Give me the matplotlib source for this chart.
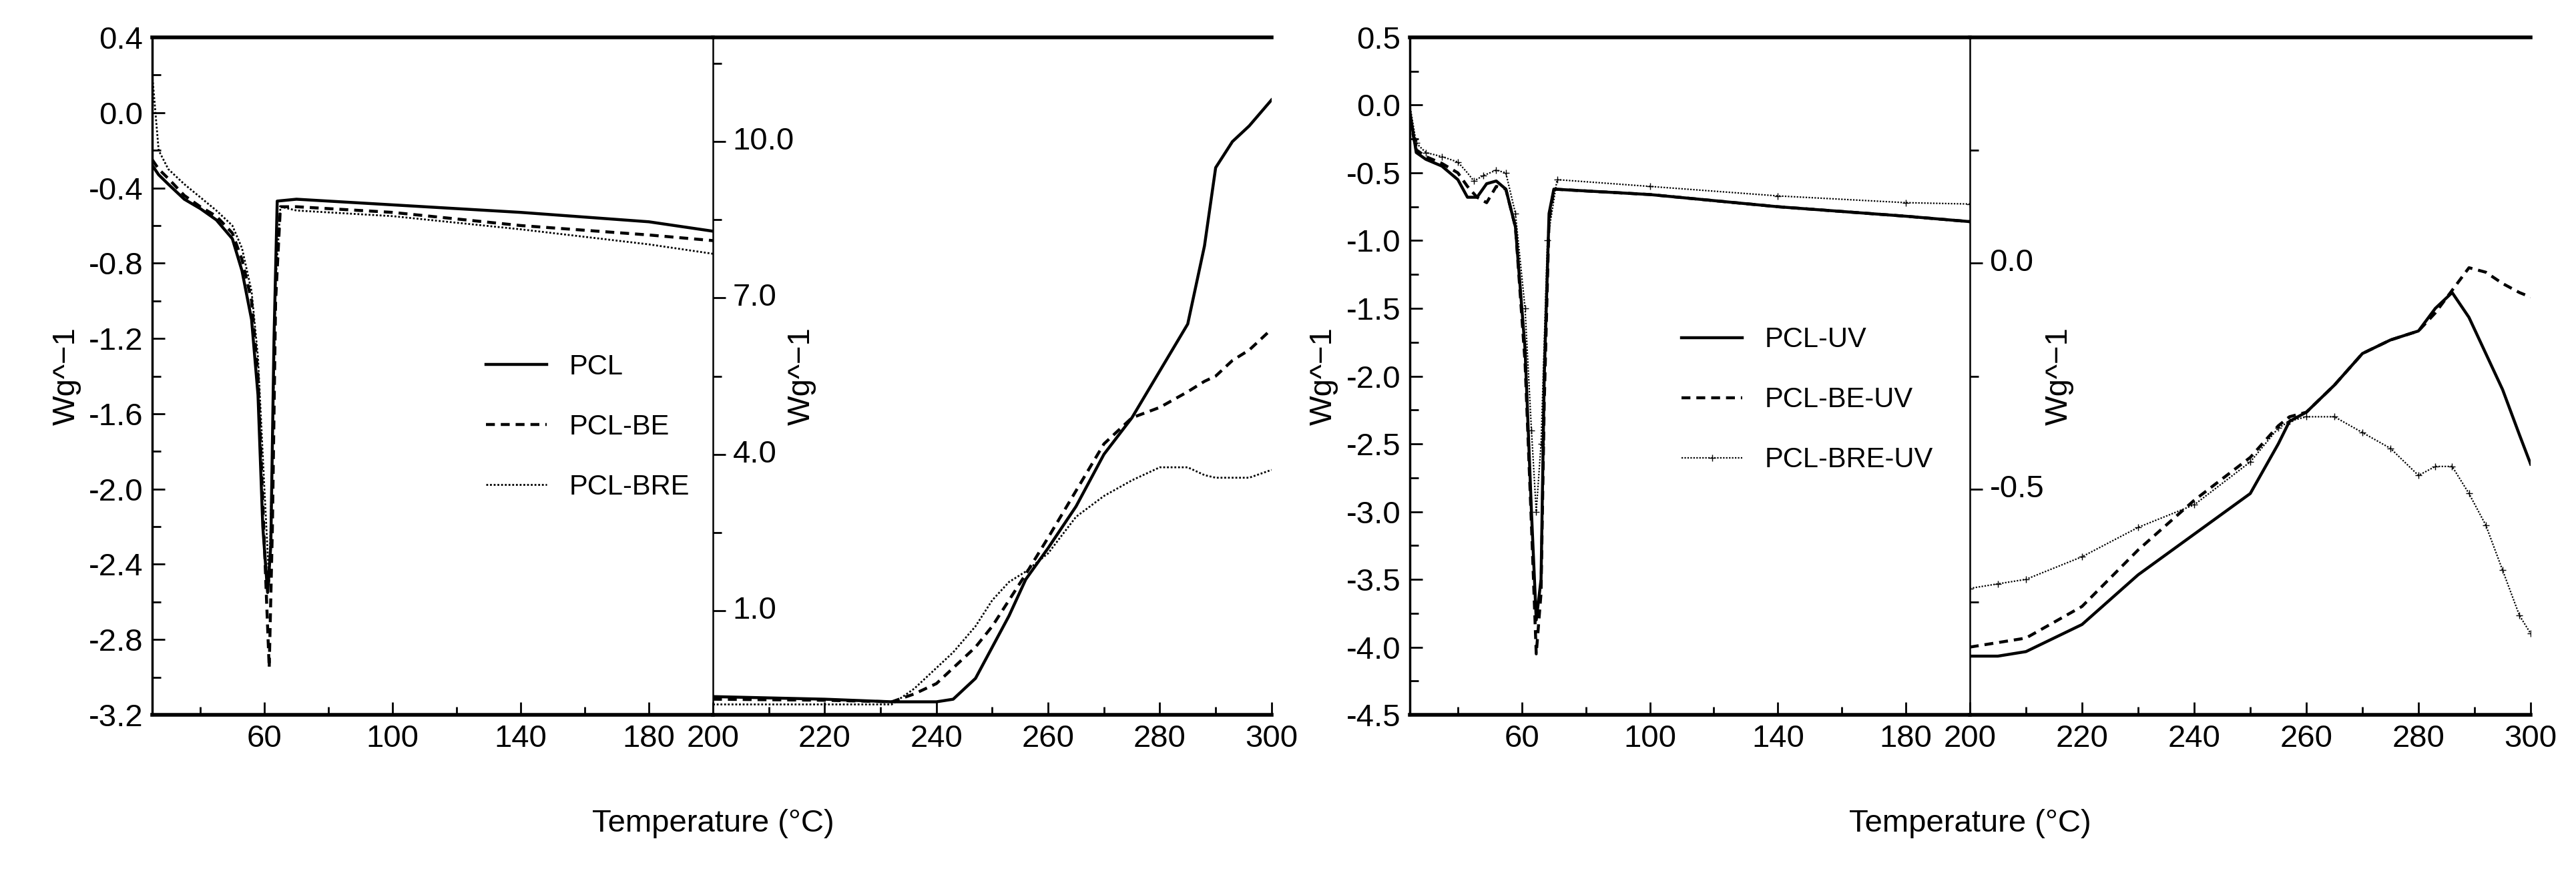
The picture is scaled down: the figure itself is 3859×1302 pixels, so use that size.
import numpy as np
import matplotlib.pyplot as plt
import matplotlib.transforms as mtrans
from matplotlib.ticker import MultipleLocator, FixedLocator

plt.rcParams['font.family'] = ['Liberation Sans Narrow', 'Liberation Sans', 'DejaVu Sans']
plt.rcParams['font.size'] = 34

# ---- left figure, 25-200 C ----
t_a = [25, 27, 30, 35, 40, 45, 50, 53, 56, 58, 59.5, 61, 62, 63, 64, 70, 100, 140, 180, 200]
pcl_a = [-0.28, -0.33, -0.38, -0.46, -0.51, -0.57, -0.67, -0.84, -1.1, -1.5, -2.2, -2.55, -2.3, -1.2, -0.47, -0.46, -0.49, -0.53, -0.58, -0.63]
t_a2 = [25, 27, 30, 35, 40, 45, 50, 53, 56, 58, 60, 61.5, 62.5, 63.5, 65, 70, 100, 140, 180, 200]
pclbe_a = [-0.25, -0.3, -0.35, -0.44, -0.5, -0.55, -0.64, -0.78, -1.0, -1.4, -2.3, -2.95, -2.2, -1.0, -0.5, -0.5, -0.53, -0.6, -0.65, -0.68]
pclbre_a = [0.2, -0.2, -0.3, -0.38, -0.45, -0.52, -0.6, -0.72, -0.95, -1.3, -2.0, -2.5, -1.8, -0.9, -0.5, -0.52, -0.55, -0.62, -0.7, -0.75]

# ---- left figure, 200-300 C ----
t_b = [200, 220, 232, 236, 240, 243, 247, 250, 253, 256, 260, 265, 270, 275, 280, 285, 288, 290, 293, 296, 300]
pcl_b = [-0.65, -0.7, -0.75, -0.75, -0.75, -0.7, -0.3, 0.3, 0.9, 1.6, 2.2, 3.0, 4.0, 4.7, 5.6, 6.5, 8.0, 9.5, 10.0, 10.3, 10.8]
pclbe_b = [-0.7, -0.72, -0.75, -0.6, -0.4, -0.1, 0.3, 0.7, 1.2, 1.7, 2.4, 3.3, 4.2, 4.7, 4.9, 5.2, 5.4, 5.5, 5.8, 6.0, 6.4]
pclbre_b = [-0.8, -0.8, -0.8, -0.5, -0.1, 0.2, 0.7, 1.2, 1.55, 1.75, 2.1, 2.8, 3.2, 3.5, 3.75, 3.75, 3.6, 3.55, 3.55, 3.55, 3.7]

# ---- right figure, 25-200 C ----
t_c = [25, 27, 30, 35, 40, 43, 46, 49, 52, 55, 58, 61, 63, 64.5, 66, 67, 68.5, 70, 100, 140, 180, 200]
pcluv_c = [-0.05, -0.35, -0.4, -0.45, -0.55, -0.68, -0.68, -0.58, -0.56, -0.62, -0.9, -1.8, -3.0, -3.8, -3.5, -2.0, -0.8, -0.62, -0.66, -0.75, -0.82, -0.86]
pclbeuv_c = [-0.1, -0.33, -0.38, -0.43, -0.5, -0.6, -0.68, -0.72, -0.6, -0.62, -0.9, -1.9, -3.1, -4.05, -3.6, -2.2, -0.85, -0.62, -0.66, -0.75, -0.82, -0.86]
t_c2 = [25, 27, 30, 35, 40, 43, 45, 48, 52, 55, 58, 61, 63, 64.5, 66, 68, 71, 100, 140, 180, 200]
pclbreuv_c = [0.0, -0.28, -0.35, -0.38, -0.42, -0.5, -0.56, -0.52, -0.48, -0.5, -0.8, -1.5, -2.4, -3.0, -2.5, -1.0, -0.55, -0.6, -0.67, -0.72, -0.73]

# ---- right figure, 200-300 C ----
t_d = [200, 205, 210, 220, 230, 240, 250, 255, 257, 260, 265, 270, 275, 280, 283, 286, 289, 292, 295, 298, 300]
pcluv_d = [-0.87, -0.87, -0.86, -0.8, -0.69, -0.6, -0.51, -0.4, -0.35, -0.33, -0.27, -0.2, -0.17, -0.15, -0.1, -0.065, -0.12, -0.2, -0.28, -0.38, -0.445]
pclbeuv_d = [-0.85, -0.84, -0.83, -0.76, -0.635, -0.525, -0.43, -0.36, -0.34, -0.33, -0.27, -0.2, -0.17, -0.15, -0.11, -0.06, -0.01, -0.02, -0.045, -0.065, -0.075]
pclbreuv_d = [-0.72, -0.71, -0.7, -0.65, -0.585, -0.535, -0.44, -0.365, -0.35, -0.34, -0.34, -0.375, -0.41, -0.47, -0.45, -0.45, -0.51, -0.58, -0.68, -0.78, -0.82]

fig = plt.figure(figsize=(38.59, 13.02), dpi=100)
bot, h = 0.1774, 0.957 - 0.1774


def style(ax, left_part):
    ax.spines['right'].set_visible(False)
    ax.spines['top'].set_linewidth(4)
    ax.spines['bottom'].set_linewidth(4)
    ax.spines['left'].set_linewidth(2.5 if left_part else 1.8)
    ax.tick_params(direction='in', length=14, width=2, which='both', pad=10)
    ax.tick_params(which='minor', length=9)


def panel(x0, xm, x1, a_series, b_series, ylim_a, ymaj_a, ymin_a, ylim_b, bticks, bminor, labels, leg_pos, dotted_marker):
    ax1 = fig.add_axes([x0, bot, xm - x0, h])
    ax2 = fig.add_axes([xm, bot, x1 - xm, h])
    ax1.set_zorder(3)
    ax1.patch.set_visible(False)
    styles = [dict(color='black', lw=3.2, ls='-'),
              dict(color='black', lw=3.2, ls=(0, (3, 2))),
              dict(color='black', lw=2.0, ls=(0, (1, 1)))]
    if dotted_marker:
        styles[2] = dict(color='black', lw=1.6, ls=(0, (1, 1)), marker='+', markersize=7,
                         markevery=0.015)
    for (t, y), st, lab in zip(a_series, styles, labels):
        ax1.plot(t, y, label=lab, **st)
    for (t, y), st in zip(b_series, styles):
        ax2.plot(t, y, **st)
    ax1.set_xlim(25, 200)
    ax1.set_ylim(*ylim_a)
    ax1.xaxis.set_major_locator(FixedLocator([60, 100, 140, 180]))
    ax1.xaxis.set_minor_locator(FixedLocator([40, 80, 120, 160]))
    ax1.yaxis.set_major_locator(MultipleLocator(ymaj_a))
    ax1.yaxis.set_minor_locator(MultipleLocator(ymin_a))
    ax1.yaxis.set_major_formatter(plt.FuncFormatter(lambda v, p: f'{v:.1f}'))
    ax1.set_ylabel('Wg^\u22121', labelpad=8)
    ax2.set_xlim(200, 300)
    ax2.set_ylim(*ylim_b)
    ax2.xaxis.set_major_locator(MultipleLocator(20))
    ax2.xaxis.set_minor_locator(MultipleLocator(10))
    ax2.yaxis.set_major_locator(FixedLocator(bticks))
    ax2.yaxis.set_minor_locator(FixedLocator(bminor))
    ax2.tick_params(axis='y', which='both', labelleft=False)
    tr = mtrans.blended_transform_factory(ax2.transAxes, ax2.transData)
    for v in bticks:
        ax2.text(0.035, v, f'{v:.1f}', transform=tr, ha='left', va='center')
    ax2.set_ylabel('Wg^\u22121')
    ax2.yaxis.set_label_coords(0.185, 0.5)
    ax2.tick_params(axis='x', pad=18)
    ax1.tick_params(axis='x', pad=18)
    style(ax1, True)
    style(ax2, False)
    ax1.legend(loc='upper left', bbox_to_anchor=leg_pos, frameon=False, handlelength=2.2,
               labelspacing=1.2, fontsize=30)
    fig.text(xm, 0.043, 'Temperature (\u00b0C)', ha='center', fontsize=34)
    return ax1, ax2


panel(0.0591, 0.2768, 0.4936,
      [(t_a, pcl_a), (t_a2, pclbe_a), (t_a2, pclbre_a)],
      [(t_b, pcl_b), (t_b, pclbe_b), (t_b, pclbre_b)],
      (-3.2, 0.4), 0.4, 0.2, (-1, 12), [1, 4, 7, 10], [2.5, 5.5, 8.5, 11.5],
      ['PCL', 'PCL-BE', 'PCL-BRE'], (0.55, 0.57), False)

panel(0.5473, 0.7647, 0.9824,
      [(t_c, pcluv_c), (t_c, pclbeuv_c), (t_c2, pclbreuv_c)],
      [(t_d, pcluv_d), (t_d, pclbeuv_d), (t_d, pclbreuv_d)],
      (-4.5, 0.5), 0.5, 0.25, (-1, 0.5), [0.0, -0.5], [0.25, -0.25, -0.75],
      ['PCL-UV', 'PCL-BE-UV', 'PCL-BRE-UV'], (0.44, 0.61), True)

fig.savefig('out.png', dpi=100)
